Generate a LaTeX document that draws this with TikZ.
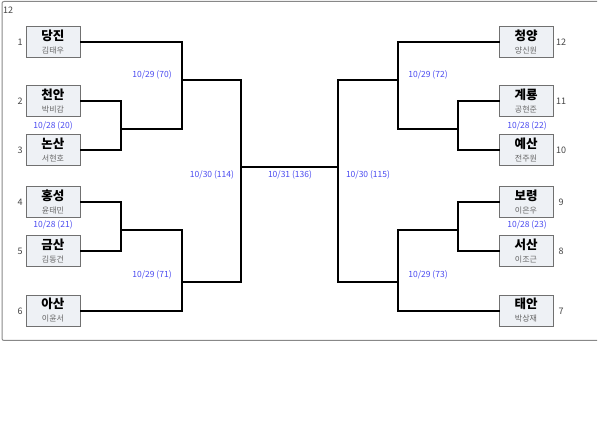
\documentclass[tikz,border=0pt]{standalone}
\usepackage{fontspec}
\setmainfont{Noto Sans CJK KR}
\definecolor{boxfill}{HTML}{EEF1F5}
\definecolor{boxline}{HTML}{707070}
\definecolor{lblue}{HTML}{4A4AF0}
\definecolor{numgray}{HTML}{444444}
\definecolor{subgray}{HTML}{666666}
\definecolor{framegray}{HTML}{888888}
\begin{document}
\begin{tikzpicture}[x=1pt,y=-1pt,
  team/.style={draw=boxline,fill=boxfill,line width=1pt,minimum width=54pt,minimum height=31pt,inner sep=0pt},
  wire/.style={line width=2pt,black,line join=miter,line cap=rect},
  lbl/.style={text=lblue,font=\fontsize{8.5}{10}\selectfont,inner sep=0pt},
  num/.style={text=numgray,font=\fontsize{9}{10}\selectfont,inner sep=0pt}]
\useasboundingbox (0,0) rectangle (600,427);
\draw[framegray,line width=1pt,rounded corners=2pt] (597,1.5) -- (2,1.5) -- (2,340.5) -- (597,340.5);
\node[num,anchor=west] (top12) at (3,10) {12};
\newcommand{\team}[5]{%
  \node[team] (#1) at (#2,#3) {};
  \node[inner sep=0pt,font=\fontsize{12.5}{13}\bfseries\selectfont] (#1n) at (#2,#3-7) {#4};
  \node[inner sep=0pt,text=subgray,font=\fontsize{8}{9}\selectfont] (#1s) at (#2,#3+8) {#5};}
% left
\team{b1}{53}{42.5}{당진}{김태우}
\team{b2}{53}{101.5}{천안}{박비감}
\team{b3}{53}{150.5}{논산}{서현호}
\team{b4}{53}{202.5}{홍성}{윤태민}
\team{b5}{53}{251.5}{금산}{김동건}
\team{b6}{53}{311}{아산}{이윤서}
% right
\team{b12}{526}{42.5}{청양}{양신원}
\team{b11}{526}{101.5}{계룡}{공현준}
\team{b10}{526}{150.5}{예산}{전주원}
\team{b9}{526}{202.5}{보령}{이은우}
\team{b8}{526}{251.5}{서산}{이조근}
\team{b7}{526}{311}{태안}{박상재}
% seeds
\node[num] (n1) at (20,42.5) {1};
\node[num] (n2) at (20,101.5) {2};
\node[num] (n3) at (20,150.5) {3};
\node[num] (n4) at (20,202.5) {4};
\node[num] (n5) at (20,251.5) {5};
\node[num] (n6) at (20,311) {6};
\node[num] (n12) at (561,42.5) {12};
\node[num] (n11) at (561,101.5) {11};
\node[num] (n10) at (561,150.5) {10};
\node[num] (n9) at (561,202.5) {9};
\node[num] (n8) at (561,251.5) {8};
\node[num] (n7) at (561,311) {7};
% left junctions
\coordinate (m23) at (121,129);
\coordinate (m45) at (121,230);
\coordinate (q1) at (182,129);
\coordinate (q2) at (182,230);
\coordinate (o1) at (182,80);
\coordinate (o2) at (182,282);
\coordinate (f1) at (241,80);
\coordinate (f2) at (241,282);
\coordinate (c1) at (241,167);
% right junctions
\coordinate (rm23) at (458,129);
\coordinate (rm45) at (458,230);
\coordinate (rq1) at (398,129);
\coordinate (rq2) at (398,230);
\coordinate (ro1) at (398,80);
\coordinate (ro2) at (398,282);
\coordinate (rf1) at (338,80);
\coordinate (rf2) at (338,282);
\coordinate (c2) at (338,167);
% left wires
\draw[wire] (b2.east) -| (m23) |- (b3.east);
\draw[wire] (b4.east) -| (m45) |- (b5.east);
\draw[wire] (m23) -- (q1);
\draw[wire] (m45) -- (q2);
\draw[wire] (b1.east) -| (q1);
\draw[wire] (b6.east) -| (q2);
\draw[wire] (o1) -- (f1) -- (f2) -- (o2);
% right wires
\draw[wire] (b11.west) -| (rm23) |- (b10.west);
\draw[wire] (b9.west) -| (rm45) |- (b8.west);
\draw[wire] (rm23) -- (rq1);
\draw[wire] (rm45) -- (rq2);
\draw[wire] (b12.west) -| (rq1);
\draw[wire] (b7.west) -| (rq2);
\draw[wire] (ro1) -- (rf1) -- (rf2) -- (ro2);
\draw[wire] (c1) -- (c2);
% labels
\node[lbl] (l70) at (152,75) {10/29 (70)};
\node[lbl] (l20) at (53,125.5) {10/28 (20)};
\node[lbl] (l21) at (53,225) {10/28 (21)};
\node[lbl] (l71) at (152,275) {10/29 (71)};
\node[lbl] (l114) at (212,175) {10/30 (114)};
\node[lbl] (l136) at (290,175) {10/31 (136)};
\node[lbl] (l115) at (368,175) {10/30 (115)};
\node[lbl] (l72) at (428,75) {10/29 (72)};
\node[lbl] (l22) at (527,125.5) {10/28 (22)};
\node[lbl] (l23) at (527,225) {10/28 (23)};
\node[lbl] (l73) at (428,275) {10/29 (73)};
\end{tikzpicture}
\end{document}
